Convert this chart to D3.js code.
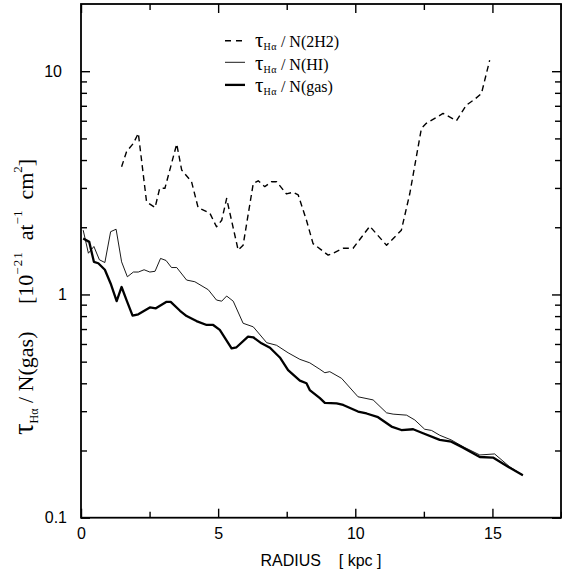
<!DOCTYPE html>
<html>
<head>
<meta charset="utf-8">
<script src="https://cdn.jsdelivr.net/npm/d3@7/dist/d3.min.js"></script>
<style>
  html, body { margin: 0; padding: 0; background: #fff; }
  svg { display: block; }
</style>
</head>
<body>
<svg id="chart" width="562" height="574"></svg>
<script>
// ---- data ----
const h2Radius = [1.48,1.66,1.91,2.09,2.39,2.70,2.87,3.06,3.49,3.67,4.03,4.27,4.70,4.94,5.13,5.31,5.73,5.91,6.28,6.46,6.70,6.95,7.13,7.49,7.73,7.92,8.22,8.46,9.01,9.19,9.56,9.92,10.53,11.14,11.68,11.99,12.41,12.59,13.20,13.69,14.05,14.35,14.60,14.90];
const h2Ratio  = [3.73,4.36,4.75,5.27,2.60,2.45,2.99,2.99,4.72,3.61,3.20,2.45,2.31,2.01,2.15,2.69,1.58,1.66,3.14,3.23,3.04,3.20,3.20,2.82,2.87,2.79,2.15,1.69,1.50,1.53,1.61,1.61,2.02,1.66,1.94,2.84,5.54,5.84,6.47,6.00,7.05,7.48,7.95,11.2];

const hiRadius = [0.08,0.27,0.47,0.67,0.87,1.08,1.28,1.48,1.69,1.91,2.09,2.30,2.51,2.70,2.90,3.10,3.30,3.49,3.85,4.15,4.64,4.94,5.13,5.31,5.55,5.91,6.28,6.77,7.13,7.55,7.98,8.34,8.71,8.89,9.07,9.50,10.10,10.65,11.14,11.38,11.87,12.17,12.53,12.78,13.08,13.50,13.93,14.54,15.08,15.63,16.11];
const hiRatio  = [1.94,1.53,1.64,1.43,1.39,1.91,1.96,1.40,1.20,1.26,1.26,1.29,1.26,1.27,1.45,1.42,1.32,1.32,1.16,1.14,1.05,0.944,0.933,0.984,0.933,0.743,0.716,0.608,0.592,0.548,0.512,0.494,0.462,0.446,0.451,0.421,0.348,0.337,0.295,0.291,0.288,0.274,0.249,0.246,0.234,0.223,0.208,0.191,0.193,0.169,0.155];

const gasRadius = [0.08,0.30,0.47,0.63,0.87,1.08,1.30,1.48,1.66,1.88,2.09,2.51,2.73,3.12,3.27,3.61,3.85,4.21,4.58,4.82,5.06,5.49,5.67,6.09,6.28,6.58,6.89,7.25,7.55,7.98,8.22,8.34,8.71,8.89,9.32,9.56,10.10,10.41,10.83,11.32,11.68,12.11,12.47,13.08,13.50,13.93,14.54,15.02,15.57,16.11];
const gasRatio  = [1.78,1.72,1.40,1.38,1.29,1.12,0.933,1.08,0.944,0.804,0.815,0.875,0.867,0.927,0.927,0.845,0.800,0.760,0.730,0.730,0.694,0.574,0.580,0.647,0.643,0.604,0.577,0.522,0.458,0.411,0.400,0.373,0.343,0.327,0.325,0.320,0.299,0.293,0.282,0.256,0.247,0.249,0.239,0.223,0.219,0.206,0.187,0.186,0.169,0.155];

const xMajorTicks = [0, 5, 10, 15];
const xMinorTicks = [2.5, 7.5, 12.5, 17.5];
const yMajorTicks = [0.1, 1, 10];
const yMinorTicks = [0.2,0.3,0.4,0.5,0.6,0.7,0.8,0.9,2,3,4,5,6,7,8,9];
const yTickLabels = {0.1: "0.1", 1: "1", 10: "10"};

const legendLabels = ["N(2H2)", "N(HI)", "N(gas)"];

// ---- layout ----
const svg = d3.select("#chart");
const pLeft = 81, pRight = 561, pTop = 4, pBottom = 517.7;

const x = d3.scaleLinear().domain([0, 17.5]).range([pLeft, pRight]);
const y = d3.scaleLog().domain([0.1, 20]).range([pBottom, pTop]);

const sans = "'Liberation Sans', Arial, Helvetica, sans-serif";
const serif = "'Liberation Serif', 'Times New Roman', Times, serif";

function styleAxis(g) {
  g.select(".domain").remove();
  g.selectAll(".tick line").attr("stroke", "#000").attr("stroke-width", 1.4);
  g.selectAll(".tick text").attr("fill", "#000")
    .style("font-family", sans).style("font-size", "16px");
}

// bottom
svg.append("g").attr("transform", `translate(0,${pBottom})`)
  .call(d3.axisBottom(x).tickValues(xMinorTicks).tickSize(-6).tickFormat(""))
  .call(styleAxis);
svg.append("g").attr("transform", `translate(0,${pBottom})`)
  .call(d3.axisBottom(x).tickValues(xMajorTicks).tickSize(-9).tickPadding(9.5).tickFormat(d3.format("d")))
  .call(styleAxis);
// top
svg.append("g").attr("transform", `translate(0,${pTop})`)
  .call(d3.axisTop(x).tickValues(xMinorTicks).tickSize(-6).tickFormat(""))
  .call(styleAxis);
svg.append("g").attr("transform", `translate(0,${pTop})`)
  .call(d3.axisTop(x).tickValues(xMajorTicks).tickSize(-9).tickFormat(""))
  .call(styleAxis);
// left
svg.append("g").attr("transform", `translate(${pLeft},0)`)
  .call(d3.axisLeft(y).tickValues(yMinorTicks).tickSize(-6).tickFormat(""))
  .call(styleAxis);
const yLeft = svg.append("g").attr("transform", `translate(${pLeft},0)`)
  .call(d3.axisLeft(y).tickValues(yMajorTicks).tickSize(-9).tickPadding(14).tickFormat(d => yTickLabels[d]))
  .call(styleAxis);
yLeft.selectAll(".tick text").filter(d => d === 10).attr("x", -19);
// right
svg.append("g").attr("transform", `translate(${pRight},0)`)
  .call(d3.axisRight(y).tickValues(yMinorTicks).tickSize(-6).tickFormat(""))
  .call(styleAxis);
svg.append("g").attr("transform", `translate(${pRight},0)`)
  .call(d3.axisRight(y).tickValues(yMajorTicks).tickSize(-9).tickFormat(""))
  .call(styleAxis);

// frame
svg.append("rect")
  .attr("x", pLeft).attr("y", pTop)
  .attr("width", pRight - pLeft).attr("height", pBottom - pTop)
  .attr("fill", "none").attr("stroke", "#000").attr("stroke-width", 1.8);

// ---- lines ----
const line = d3.line().x(d => x(d[0])).y(d => y(d[1]));
const series = [
  {r: h2Radius, v: h2Ratio, w: 1.4, dash: "6,4"},
  {r: hiRadius, v: hiRatio, w: 0.9, dash: null},
  {r: gasRadius, v: gasRatio, w: 2.3, dash: null}
];
series.forEach(s => {
  svg.append("path")
    .datum(d3.zip(s.r, s.v))
    .attr("d", line)
    .attr("fill", "none")
    .attr("stroke", "#000")
    .attr("stroke-width", s.w)
    .attr("stroke-linejoin", "round")
    .attr("stroke-dasharray", s.dash);
});

// ---- legend ----
const legY = [47, 69.5, 91.5];
const legOff = [6.3, 7.2, 6.6];
series.forEach((s, i) => {
  svg.append("line")
    .attr("x1", 225).attr("x2", 245)
    .attr("y1", legY[i] - legOff[i]).attr("y2", legY[i] - legOff[i])
    .attr("stroke", "#000").attr("stroke-width", s.w)
    .attr("stroke-dasharray", i === 0 ? "6,5" : null);
  const t = svg.append("text").attr("x", 255).attr("y", legY[i])
    .style("font-family", serif).style("font-size", "16px").attr("fill", "#000");
  t.append("tspan").text("τ").style("font-size", "21px");
  t.append("tspan").text("Hα").style("font-size", "10px").attr("dy", 3).attr("letter-spacing", "0.5px");
  t.append("tspan").text(" / " + legendLabels[i]).attr("dy", -3);
});

// ---- axis titles ----
svg.append("text")
  .attr("x", (pLeft + pRight) / 2).attr("y", 566)
  .attr("text-anchor", "middle")
  .style("font-family", sans).style("font-size", "16px")
  .style("white-space", "pre").attr("xml:space", "preserve")
  .text("RADIUS    [ kpc ]");

const yl = svg.append("text")
  .attr("transform", "translate(33,297) rotate(-90)")
  .attr("text-anchor", "middle")
  .style("font-family", serif).style("font-size", "22px")
  .style("white-space", "pre").attr("xml:space", "preserve")
  .attr("fill", "#000");
yl.append("tspan").text("τ").style("font-size", "29px");
yl.append("tspan").text("Hα").style("font-size", "12px").attr("dy", 5);
yl.append("tspan").text(" / N(gas)     [10").attr("dy", -5);
yl.append("tspan").text("−21").style("font-size", "13px").attr("dy", -11).attr("letter-spacing", "1px");
yl.append("tspan").text("  at").attr("dy", 11);
yl.append("tspan").text("−1").style("font-size", "13px").attr("dy", -11);
yl.append("tspan").text("  cm").attr("dy", 11);
yl.append("tspan").text("2").style("font-size", "13px").attr("dy", -11);
yl.append("tspan").text("]").attr("dy", 11);
</script>
</body>
</html>
